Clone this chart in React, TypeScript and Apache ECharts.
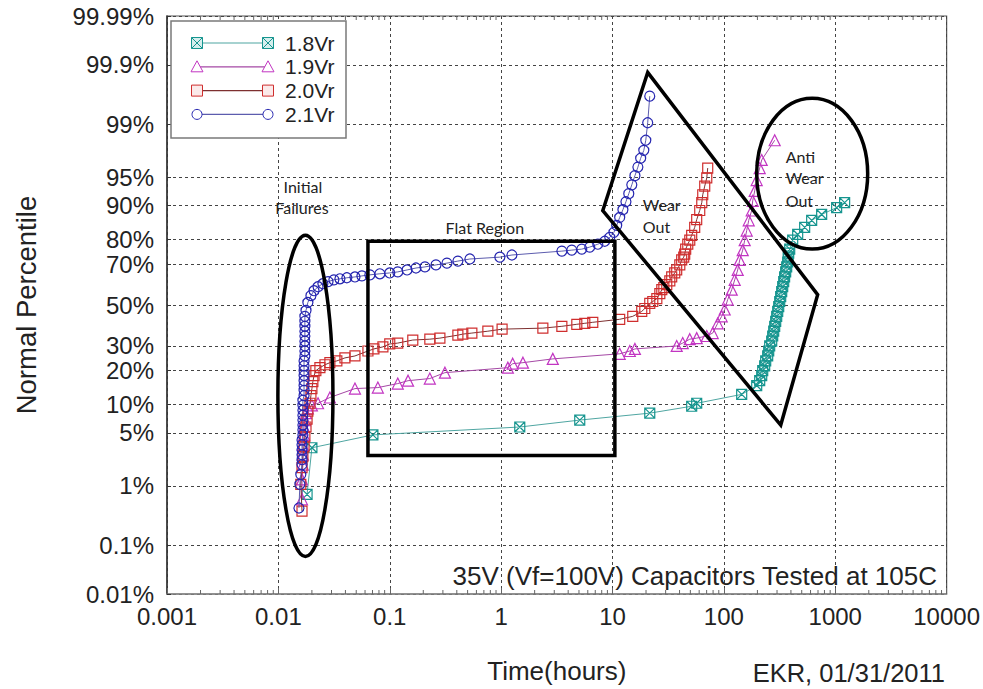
import React, { useEffect, useRef } from "react";
import * as echarts from "echarts";

// ---------- data: [time (hours), cumulative percent] ----------
const SERIES_NAMES = ["1.8Vr", "1.9Vr", "2.0Vr", "2.1Vr"];

const S18: number[][] = [
  [0.0181, 0.74], [0.02, 3.31], [0.0706, 4.73], [1.47, 5.82], [5.08, 6.93], [21.6, 8.2],
  [51.4, 9.63], [57.0, 10.3], [144.5, 12.5], [197.1, 15.0], [209.7, 16.5], [218.6, 18.2],
  [223.2, 19.9], [232.4, 21.7], [237.4, 23.6], [247.3, 25.6], [252.6, 27.7], [257.8, 29.9],
  [268.7, 32.1], [274.3, 34.5], [280.1, 36.8], [285.9, 39.2], [291.9, 41.7], [298.0, 44.2],
  [304.2, 46.7], [310.6, 49.2], [317.1, 51.8], [323.6, 54.3], [330.4, 56.8], [337.3, 59.3],
  [344.4, 61.8], [351, 64.1], [358.8, 66.5], [366.4, 68.8], [374.1, 71.0], [378, 73.1],
  [381.9, 74.8], [389.9, 76.4], [414.7, 79.8], [459.8, 81.8], [531.3, 84.1], [614, 86.2],
  [755, 87.8], [1029, 89.5], [1214, 90.6],
];

const S19: number[][] = [
  [0.0163, 0.62], [0.0163, 1.24], [0.0166, 2.0], [0.0166, 2.7], [0.0166, 3.6], [0.017, 4.73],
  [0.017, 5.82], [0.0173, 6.93], [0.0177, 8.2], [0.0184, 9.19], [0.02, 9.84], [0.0227, 10.3],
  [0.029, 11.7], [0.0487, 14.1], [0.0782, 14.4], [0.118, 15.6], [0.146, 16.5], [0.229, 17.2],
  [0.313, 19.2], [1.15, 21.0], [1.27, 22.5], [1.57, 22.9], [2.91, 24.4], [11.6, 26.5],
  [14.3, 27.7], [15.9, 28.6], [37.7, 29.9], [42.7, 31.2], [49.4, 33.0], [57.0, 33.5],
  [70.2, 34.5], [79.4, 35.9], [88.0, 40.7], [95.6, 44.2], [101.7, 47.7], [108.2, 52.8],
  [117.6, 57.8], [125.1, 62.7], [133.1, 67.4], [138.7, 71.9], [147.6, 76.0], [153.8, 79.8],
  [160.3, 83.1], [167.1, 86.2], [177.8, 88.8], [181.5, 91.0], [189.1, 92.9], [197.1, 94.6],
  [209.7, 96.1], [218.6, 96.9], [285.9, 98.3],
];

const S20: number[][] = [
  [0.0163, 0.4], [0.0159, 1.05], [0.0163, 1.82], [0.0166, 2.55], [0.017, 3.4], [0.0173, 4.48],
  [0.0177, 5.82], [0.0181, 7.1], [0.0184, 8.58], [0.0192, 10.3], [0.0196, 12.2], [0.02, 14.1],
  [0.0204, 16.2], [0.0209, 18.2], [0.0217, 19.9], [0.0236, 21.0], [0.0262, 22.1], [0.029, 22.9],
  [0.0335, 23.6], [0.0396, 24.8], [0.0487, 25.6], [0.0637, 27.7], [0.0721, 28.6], [0.0868, 29.5],
  [0.1, 30.8], [0.118, 31.2], [0.161, 32.6], [0.229, 33.0], [0.282, 33.5], [0.409, 34.9],
  [0.453, 35.4], [0.546, 35.9], [0.76, 36.8], [1.02, 37.8], [2.37, 38.3], [3.51, 39.2],
  [4.78, 40.2], [5.64, 40.7], [6.65, 41.2], [11.6, 42.7], [15.2, 44.2], [18.3, 46.7],
  [19.5, 48.2], [21.6, 50.8], [23.0, 51.8], [25.0, 53.3], [26.6, 55.8], [27.7, 57.8],
  [28.9, 58.8], [30.7, 60.3], [32.7, 62.2], [34.0, 64.1], [36.2, 66.0], [37.7, 67.4],
  [40.2, 69.7], [41.8, 71.9], [43.6, 73.1], [44.5, 74.4], [45.4, 76.4], [47.4, 78.3],
  [49.4, 79.8], [51.4, 81.5], [54.7, 84.1], [57.0, 86.4], [60.7, 88.8], [63.3, 90.6],
  [64.6, 92.2], [67.3, 93.7], [70.2, 94.9], [71.6, 96.1],
];

const S21: number[][] = [
  [0.0153, 0.45], [0.0156, 1.05], [0.0159, 1.46], [0.0163, 2.0], [0.0163, 2.33], [0.0163, 2.7],
  [0.0163, 3.12], [0.0163, 3.6], [0.0163, 4.13], [0.0166, 4.73], [0.0166, 5.39], [0.0166, 6.12],
  [0.0166, 6.93], [0.0166, 7.81], [0.0166, 8.79], [0.0166, 9.84], [0.0166, 11.0], [0.017, 12.2],
  [0.017, 13.6], [0.017, 15.0], [0.017, 16.5], [0.017, 18.2], [0.017, 19.9], [0.017, 21.7],
  [0.017, 23.6], [0.0173, 25.6], [0.0173, 27.7], [0.0173, 29.9], [0.0173, 32.1], [0.0173, 34.5],
  [0.0173, 36.8], [0.0173, 39.2], [0.0173, 41.7], [0.0173, 44.2], [0.0177, 47.2], [0.0184, 51.3],
  [0.0196, 54.8], [0.0209, 57.3], [0.0227, 59.3], [0.0251, 60.8], [0.0279, 61.8], [0.0315, 62.7],
  [0.0357, 63.2], [0.0412, 63.7], [0.0487, 64.1], [0.0562, 64.6], [0.0663, 65.1], [0.0815, 65.6],
  [0.1, 66.0], [0.118, 66.5], [0.143, 67.4], [0.172, 68.3], [0.207, 68.8], [0.26, 69.7],
  [0.326, 70.5], [0.409, 71.4], [0.524, 72.3], [0.974, 73.1], [1.25, 74.0], [3.51, 75.6],
  [4.31, 76.0], [5.3, 76.4], [6.25, 77.2], [7.38, 78.3], [8.52, 79.4], [9.45, 80.8],
  [10.3, 82.5], [10.9, 84.7], [11.6, 87.0], [12.4, 89.0], [13.2, 90.8], [14.0, 92.4],
  [14.9, 93.9], [15.9, 95.2], [16.9, 96.2], [17.9, 97.05], [19.1, 97.67], [19.9, 98.3],
  [20.7, 99.05], [21.6, 99.64],
];

const SERIES_DATA = [S18, S19, S20, S21];

const Y_TICK_PCT = [0.01, 0.1, 1, 5, 10, 20, 30, 50, 70, 80, 90, 95, 99, 99.9, 99.99];
const Y_TICK_LABELS = ["0.01%", "0.1%", "1%", "5%", "10%", "20%", "30%", "50%", "70%", "80%", "90%", "95%", "99%", "99.9%", "99.99%"];
const X_MIN = 0.001;
const X_MAX = 10000;
const MINOR_MULTS = [2, 3, 4, 5, 6, 7, 8, 9];

// annotations: [t1, t2, pct1, pct2]
const ELLIPSES = [
  [0.0099, 0.0309, 0.0606, 81.5],
  [197, 1955, 76.4, 99.61],
];
const FLAT_RECT = [0.0637, 10.5, 2.63, 79.4];
const WEAR_POLY = [[20.7, 99.862], [695, 55.3], [324, 6.12], [8.18, 88.8]];
// [text, t, pct, align]
const NOTES: [string, number, number, string][] = [
  ["Initial", 0.0166, 93.7, "center"],
  ["Failures", 0.0163, 89.5, "center"],
  ["Flat Region", 0.714, 84.1, "center"],
  ["Wear", 18.7, 90.2, "left"],
  ["Out", 18.7, 84.4, "left"],
  ["Anti", 359, 97.2, "left"],
  ["Wear", 359, 94.9, "left"],
  ["Out", 359, 91.0, "left"],
];

// ---------- styling ----------
const FONT = "Liberation Sans, Arial, sans-serif";
const NOTE_FONT = "Lato, Open Sans, sans-serif";
const MARKER_COLORS = ["#16958f", "#c235c2", "#cf2e2e", "#2626b0"];
const LINE_COLORS = ["#4fa6a2", "#a548a5", "#7e3030", "#5c5cae"];
const XSQUARE = "path://M0,0L10,0L10,10L0,10Z M0,0L10,10 M10,0L0,10";
const SYMBOLS = [XSQUARE, "triangle", "rect", "circle"];
const SYMBOL_SIZES = [10, 11, 10, 10];

function probit(p: number): number {
  const a = [-3.969683028665376e1, 2.209460984245205e2, -2.759285104469687e2, 1.38357751867269e2, -3.066479806614716e1, 2.506628277459239];
  const b = [-5.447609879822406e1, 1.615858368580409e2, -1.556989798598866e2, 6.680131188771972e1, -1.328068155288572e1];
  const c = [-7.784894002430293e-3, -3.223964580411365e-1, -2.400758277161838, -2.549732539343734, 4.374664141464968, 2.938163982698783];
  const d = [7.784695709041462e-3, 3.224671290700398e-1, 2.445134137142996, 3.754408661907416];
  const pl = 0.02425;
  if (p < pl) {
    const q = Math.sqrt(-2 * Math.log(p));
    return (((((c[0] * q + c[1]) * q + c[2]) * q + c[3]) * q + c[4]) * q + c[5]) / ((((d[0] * q + d[1]) * q + d[2]) * q + d[3]) * q + 1);
  }
  if (p <= 1 - pl) {
    const q = p - 0.5;
    const r = q * q;
    return ((((((a[0] * r + a[1]) * r + a[2]) * r + a[3]) * r + a[4]) * r + a[5]) * q) / (((((b[0] * r + b[1]) * r + b[2]) * r + b[3]) * r + b[4]) * r + 1);
  }
  const q = Math.sqrt(-2 * Math.log(1 - p));
  return -(((((c[0] * q + c[1]) * q + c[2]) * q + c[3]) * q + c[4]) * q + c[5]) / ((((d[0] * q + d[1]) * q + d[2]) * q + d[3]) * q + 1);
}
const Z = (pct: number) => probit(pct / 100);
const Y_MIN = Z(Y_TICK_PCT[0]);
const Y_MAX = Z(Y_TICK_PCT[Y_TICK_PCT.length - 1]);
const Y_TICK_Z = Y_TICK_PCT.map(Z);

function yLabel(v: number): string {
  let best = 0;
  let bd = Infinity;
  Y_TICK_Z.forEach((z, i) => {
    const dd = Math.abs(z - v);
    if (dd < bd) {
      bd = dd;
      best = i;
    }
  });
  return Y_TICK_LABELS[best];
}

const LZ = 100;

function legendSymbol(kind: number, cx: number, cy: number, color: string): any[] {
  const st = { fill: "#fff", stroke: color, lineWidth: 1 };
  const s = 5.5;
  if (kind === 0) {
    return [
      { type: "rect", z: LZ + 2, shape: { x: cx - s, y: cy - s, width: 2 * s, height: 2 * s }, style: { ...st, fill: "#d6eeed" } },
      { type: "line", z: LZ + 3, shape: { x1: cx - s, y1: cy - s, x2: cx + s, y2: cy + s }, style: st },
      { type: "line", z: LZ + 3, shape: { x1: cx + s, y1: cy - s, x2: cx - s, y2: cy + s }, style: st },
    ];
  }
  if (kind === 1) {
    return [{ type: "polygon", z: LZ + 2, shape: { points: [[cx, cy - 6], [cx + 6, cy + 5], [cx - 6, cy + 5]] }, style: st }];
  }
  if (kind === 2) {
    return [{ type: "rect", z: LZ + 2, shape: { x: cx - s, y: cy - s, width: 2 * s, height: 2 * s }, style: { ...st, fill: "#fbeaea" } }];
  }
  return [{ type: "circle", z: LZ + 2, shape: { cx, cy, r: 5 }, style: st }];
}

function buildLegend(): any[] {
  const els: any[] = [
    { type: "rect", z: LZ, shape: { x: 171, y: 21, width: 175, height: 117 }, style: { fill: "#fff", stroke: "#7a7a7a", lineWidth: 1.5 } },
  ];
  SERIES_NAMES.forEach((name, i) => {
    const cy = 43 + i * 23.8;
    els.push({ type: "line", z: LZ + 1, shape: { x1: 197, y1: cy, x2: 268, y2: cy }, style: { stroke: LINE_COLORS[i], lineWidth: 1.2 } });
    els.push(...legendSymbol(i, 197, cy, MARKER_COLORS[i]));
    els.push(...legendSymbol(i, 268, cy, MARKER_COLORS[i]));
    els.push({
      type: "text",
      z: LZ + 1,
      x: 285,
      y: cy,
      style: { text: name, fontSize: 21, fontFamily: FONT, fill: "#222", align: "left", verticalAlign: "middle", textAlign: "left", textVerticalAlign: "middle" },
    });
  });
  return els;
}

export default function App() {
  const ref = useRef<HTMLDivElement>(null);
  useEffect(() => {
    if (!ref.current) return;
    const chart = echarts.init(ref.current, undefined, { renderer: "svg" });

    const lineSeries = SERIES_DATA.map((arr, i) => ({
      type: "line",
      name: SERIES_NAMES[i],
      data: arr.map(([t, p]) => [t, Z(p)]),
      symbol: SYMBOLS[i],
      symbolSize: SYMBOL_SIZES[i],
      showSymbol: true,
      lineStyle: { color: LINE_COLORS[i], width: 1 },
      itemStyle: { color: "rgba(255,255,255,0)", borderColor: MARKER_COLORS[i], borderWidth: 1.2 },
      emphasis: { disabled: true },
      z: 3 + i,
    }));

    const annotationSeries = {
      type: "custom",
      name: "annotations",
      coordinateSystem: "cartesian2d",
      silent: true,
      clip: false,
      z: 20,
      data: [[1, 0]],
      renderItem: (_params: any, api: any) => {
        const pt = (t: number, pct: number) => api.coord([t, Z(pct)]);
        const children: any[] = [];
        const stroke = { fill: "none", stroke: "#000", lineWidth: 3.5 };
        ELLIPSES.forEach((e) => {
          const a = pt(e[0], e[2]);
          const b = pt(e[1], e[3]);
          children.push({
            type: "ellipse",
            shape: { cx: (a[0] + b[0]) / 2, cy: (a[1] + b[1]) / 2, rx: Math.abs(b[0] - a[0]) / 2, ry: Math.abs(b[1] - a[1]) / 2 },
            style: stroke,
          });
        });
        const r1 = pt(FLAT_RECT[0], FLAT_RECT[3]);
        const r2 = pt(FLAT_RECT[1], FLAT_RECT[2]);
        children.push({ type: "rect", shape: { x: r1[0], y: r1[1], width: r2[0] - r1[0], height: r2[1] - r1[1] }, style: stroke });
        children.push({ type: "polygon", shape: { points: WEAR_POLY.map(([t, p]) => pt(t, p)) }, style: stroke });
        NOTES.forEach(([text, t, p, align]) => {
          const c = pt(t, p);
          children.push({
            type: "text",
            x: c[0],
            y: c[1],
            style: { text, fontSize: 16, fontFamily: NOTE_FONT, fill: "#222", align, verticalAlign: "middle", textAlign: align, textVerticalAlign: "middle" },
          });
        });
        // log minor ticks on bottom and top edges
        for (let d = -3; d <= 3; d++) {
          MINOR_MULTS.forEach((k) => {
            const t = k * Math.pow(10, d);
            const b = api.coord([t, Y_MIN]);
            const tp = api.coord([t, Y_MAX]);
            children.push({ type: "line", shape: { x1: b[0], y1: b[1], x2: b[0], y2: b[1] - 4 }, style: { stroke: "#666", lineWidth: 1 } });
            children.push({ type: "line", shape: { x1: tp[0], y1: tp[1], x2: tp[0], y2: tp[1] + 4 }, style: { stroke: "#666", lineWidth: 1 } });
          });
        }
        return { type: "group", children };
      },
    };

    const option: any = {
      animation: false,
      backgroundColor: "#fff",
      textStyle: { fontFamily: FONT },
      grid: { left: 167, right: 36, top: 16, bottom: 88, show: true, borderColor: "#555", borderWidth: 1.2, containLabel: false },
      xAxis: {
        type: "log",
        logBase: 10,
        min: X_MIN,
        max: X_MAX,
        splitNumber: 7,
        name: "Time(hours)",
        nameLocation: "middle",
        nameGap: 64,
        nameTextStyle: { fontSize: 26, color: "#222", fontFamily: FONT },
        axisLine: { show: true, onZero: false, lineStyle: { color: "#888", width: 1.5 } },
        axisTick: { show: true, inside: true, length: 6, lineStyle: { color: "#666" } },
        axisLabel: { fontSize: 24, color: "#222", margin: 10, fontFamily: FONT, formatter: (v: number) => String(+(+v).toPrecision(6)) },
        splitLine: { show: true, lineStyle: { color: "#444", type: [3, 3], width: 1 } },
      },
      yAxis: {
        type: "value",
        min: Y_MIN,
        max: Y_MAX,
        name: "Normal Percentile",
        nameLocation: "middle",
        nameRotate: 90,
        nameGap: 127,
        nameTextStyle: { fontSize: 27.5, color: "#222", fontFamily: FONT },
        axisLine: { show: true, onZero: false, lineStyle: { color: "#333", width: 1.5 } },
        axisTick: { show: true, inside: true, length: 4, customValues: Y_TICK_Z, lineStyle: { color: "#333" } },
        axisLabel: { customValues: Y_TICK_Z, formatter: yLabel, fontSize: 24, color: "#222", margin: 13, fontFamily: FONT },
        splitLine: { show: true, lineStyle: { color: "#444", type: [3, 3], width: 1 } },
      },
      graphic: [
        ...buildLegend(),
        {
          type: "text",
          x: 937,
          y: 576,
          z: 50,
          style: { text: "35V (Vf=100V) Capacitors Tested at 105C", fontSize: 26, fontFamily: FONT, fill: "#222", align: "right", verticalAlign: "middle", textAlign: "right", textVerticalAlign: "middle" },
        },
        {
          type: "text",
          x: 945,
          y: 673,
          z: 50,
          style: { text: "EKR, 01/31/2011", fontSize: 25.5, fontFamily: FONT, fill: "#222", align: "right", verticalAlign: "middle", textAlign: "right", textVerticalAlign: "middle" },
        },
      ],
      series: [...lineSeries, annotationSeries],
    };
    chart.setOption(option);
    return () => chart.dispose();
  }, []);
  return <div ref={ref} style={{ position: "absolute", left: 0, top: 0, width: 983, height: 689 }} />;
}
